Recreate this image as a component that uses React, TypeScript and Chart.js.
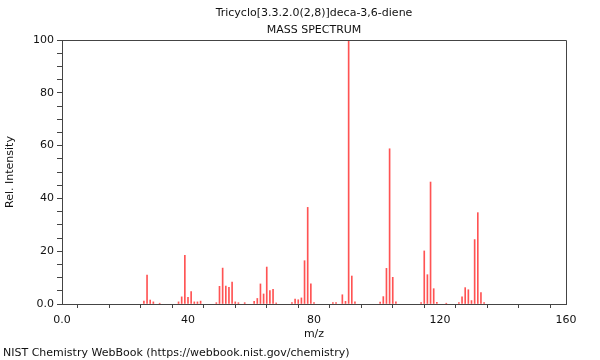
import React, { useEffect, useRef } from "react";
import { Chart, registerables } from "chart.js";

Chart.register(...registerables);

const titleLines = ["Tricyclo[3.3.2.0(2,8)]deca-3,6-diene", "MASS SPECTRUM"];
const footerText = "NIST Chemistry WebBook (https://webbook.nist.gov/chemistry)";
const xAxisTitle = "m/z";
const yAxisTitle = "Rel. Intensity";

const mzValues = [
  26, 27, 28, 29, 31, 37, 38, 39, 40, 41, 42, 43, 44, 49, 50, 51, 52, 53, 54, 55, 56, 58,
  61, 62, 63, 64, 65, 66, 67, 68, 73, 74, 75, 76, 77, 78, 79, 80, 86, 87, 89, 90, 91, 92, 93,
  101, 102, 103, 104, 105, 106, 114, 115, 116, 117, 118, 119, 122, 126, 127, 128, 129, 130,
  131, 132, 133, 134,
];
const intensities = [
  1.1, 11.0, 1.5, 0.8, 0.3, 0.8, 2.7, 18.4, 2.5, 4.7, 0.8, 0.8, 1.1, 0.5, 6.7, 13.6, 6.8, 6.3, 8.3, 0.8, 0.5, 0.5,
  1.0, 2.1, 7.6, 3.8, 14.0, 5.1, 5.6, 0.4, 0.5, 1.9, 1.6, 2.3, 16.4, 36.6, 7.6, 0.5, 0.5, 0.5, 3.5, 1.0, 100, 10.6, 0.8,
  0.7, 2.8, 13.5, 58.8, 10.1, 0.8, 0.5, 20.1, 11.1, 46.2, 5.8, 0.6, 0.3, 0.5, 2.7, 6.2, 5.4, 1.3,
  24.4, 34.6, 4.3, 0.5,
];

const FONT = "'DejaVu Sans', sans-serif";

const framePlugin = {
  id: "frameAndText",
  afterDraw(chart: any) {
    const { ctx, chartArea } = chart;
    ctx.save();
    ctx.strokeStyle = "#444";
    ctx.lineWidth = 1;
    ctx.beginPath();
    ctx.moveTo(Math.round(chartArea.left) + 0.5, Math.round(chartArea.top) + 0.5);
    ctx.lineTo(Math.round(chartArea.right) + 0.5, Math.round(chartArea.top) + 0.5);
    ctx.lineTo(Math.round(chartArea.right) + 0.5, Math.round(chartArea.bottom) + 0.5);
    ctx.stroke();
    ctx.fillStyle = "#111";
    ctx.font = `11px ${FONT}`;
    ctx.textAlign = "center";
    ctx.textBaseline = "middle";
    const cx = (chartArea.left + chartArea.right) / 2;
    ctx.fillText(titleLines[0], cx, 13);
    ctx.fillText(titleLines[1], cx, 30);
    ctx.textAlign = "left";
    ctx.fillText(footerText, 3, 353);
    ctx.restore();
  },
};

export default function App() {
  const ref = useRef<HTMLCanvasElement>(null);
  useEffect(() => {
    if (!ref.current) return;
    const chart = new Chart(ref.current, {
      type: "bar",
      data: {
        datasets: [
          {
            data: mzValues.map((m, i) => ({ x: m, y: intensities[i] })),
            backgroundColor: "rgba(255,40,40,0.8)",
            borderWidth: 0,
            barThickness: 1,
          } as any,
        ],
      },
      options: {
        animation: false,
        responsive: false,
        maintainAspectRatio: false,
        layout: { padding: { top: 40, right: 34, left: 0, bottom: 0 } },
        plugins: { legend: { display: false }, title: { display: false }, tooltip: { enabled: false } },
        scales: {
          x: {
            type: "linear",
            min: 0,
            max: 160,
            offset: false,
            afterFit: (s: any) => {
              s.height = 56;
            },
            grid: { display: true, drawOnChartArea: false, drawTicks: true, tickLength: 4, color: "#444" },
            border: { display: true, color: "#444" },
            ticks: {
              stepSize: 10,
              autoSkip: false,
              maxRotation: 0,
              padding: 6,
              color: "#111",
              font: { family: FONT, size: 11 },
              callback: (v: any) => (v % 40 === 0 ? (v === 0 ? "0.0" : String(v)) : ""),
            },
            title: { display: true, text: xAxisTitle, color: "#111", font: { family: FONT, size: 11 }, padding: { top: 2, bottom: 19 } },
          },
          y: {
            min: 0,
            max: 100,
            afterFit: (s: any) => {
              s.width = 62;
            },
            grid: { display: true, drawOnChartArea: false, drawTicks: true, tickLength: 5, color: "#444" },
            border: { display: true, color: "#444" },
            ticks: {
              stepSize: 5,
              autoSkip: false,
              padding: 3,
              color: "#111",
              font: { family: FONT, size: 11 },
              callback: (v: any) => (v % 20 === 0 ? (v === 0 ? "0.0" : String(v)) : ""),
            },
            title: { display: true, text: yAxisTitle, color: "#111", font: { family: FONT, size: 11 }, padding: { top: 4, bottom: 4 } },
          },
        },
      } as any,
      plugins: [framePlugin],
    });
    return () => chart.destroy();
  }, []);
  return (
    <div style={{ position: "fixed", left: 0, top: 0, width: 600, height: 360, background: "#fff" }}>
      <canvas ref={ref} width={600} height={360} style={{ width: 600, height: 360 }} />
    </div>
  );
}
